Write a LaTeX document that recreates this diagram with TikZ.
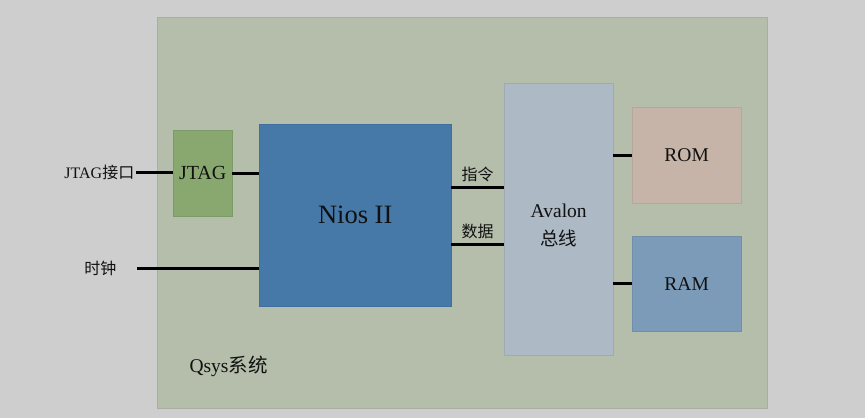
\documentclass[tikz,border=0pt]{standalone}
\usepackage{fontspec}
\setmainfont{Liberation Serif}
\newfontfamily\cjk{Noto Sans CJK SC}
\usetikzlibrary{positioning}
\definecolor{Canvas}{HTML}{CECECE}
\definecolor{Panel}{HTML}{B4BEAA}
\definecolor{PanelEdge}{HTML}{A7AF9E}
\definecolor{JtagGreen}{HTML}{88A870}
\definecolor{NiosBlue}{HTML}{4679A8}
\definecolor{BusGray}{HTML}{ADB9C4}
\definecolor{RomTan}{HTML}{C6B4A8}
\definecolor{RamBlue}{HTML}{7B9BB8}
\definecolor{Ink}{HTML}{111111}
\tikzset{
  panel/.style={draw=PanelEdge, fill=Panel, anchor=north west, inner sep=0pt},
  unit/.style={draw=#1!92!black, fill=#1, anchor=north west, inner sep=0pt,
    align=center, text=Ink},
  link/.style={line width=3pt, draw=black},
  tag/.style={font=\fontsize{16}{18}\selectfont, inner sep=1.5pt, text=Ink}
}

\begin{document}
\begin{tikzpicture}[x=1pt,y=-1pt]
  \fill[Canvas] (0,0) rectangle (865,418);
  \node[panel, minimum width=610pt, minimum height=391pt] (qsys) at (157,17) {};
  \node[anchor=west, font=\fontsize{19.5}{21}\selectfont, text=Ink] (qsyslbl) at (186,366) {Qsys{\cjk 系统}};

  % blocks
  \node[unit=JtagGreen, minimum width=59pt, minimum height=86pt,
    font=\fontsize{20}{22}\selectfont] (jtag) at (173,130) {JTAG};
  \node[unit=NiosBlue, minimum width=192pt, minimum height=182pt,
    font=\fontsize{26.5}{28}\selectfont] (nios) at (259,124) {Nios II};
  \node[unit=BusGray, minimum width=109pt, minimum height=272pt,
    font=\fontsize{19.5}{28}\selectfont] (avalon) at (504,83) {\rule{0pt}{27pt}Avalon\\{\cjk\fontsize{18.5}{28}\selectfont 总线}};
  \node[unit=RomTan, minimum width=109pt, minimum height=96pt,
    font=\fontsize{19.5}{21}\selectfont] (rom) at (632,107) {ROM};
  \node[unit=RamBlue, minimum width=109pt, minimum height=95pt,
    font=\fontsize{19.5}{21}\selectfont] (ram) at (632,236) {RAM};

  % outside ports
  \node[tag, anchor=east] (jtagport) at (136,172) {JTAG{\cjk 接口}};
  \node[tag, anchor=east] (clk) at (118,268) {\cjk 时钟};
  \coordinate (clkin) at (137,268);

  % connectors
  \draw[link] (jtagport.east) -- (jtagport.east -| jtag.west);
  \draw[link] (jtag.east) -- (jtag.east -| nios.west);
  \draw[link] (clkin) -- (clkin -| nios.west);
  \draw[link] (nios.east |- 0,187) -- node[tag, above=2pt] (inslbl) {\cjk 指令} (avalon.west |- 0,187);
  \draw[link] (nios.east |- 0,244) -- node[tag, above=2pt] (datlbl) {\cjk 数据} (avalon.west |- 0,244);
  \draw[link] (avalon.east |- rom.west) -- (rom.west);
  \draw[link] (avalon.east |- ram.west) -- (ram.west);
\end{tikzpicture}
\end{document}
